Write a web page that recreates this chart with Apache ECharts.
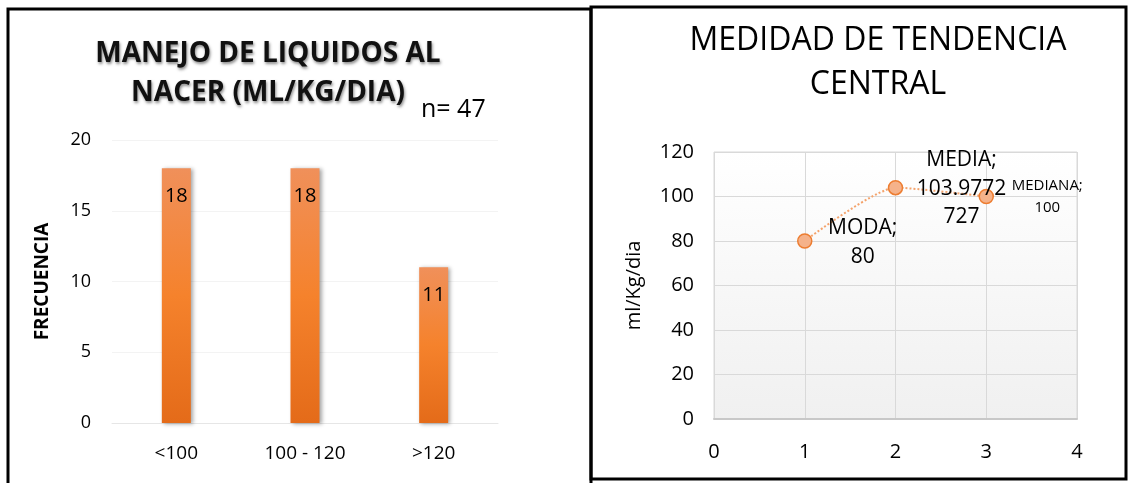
<!DOCTYPE html>
<html>
<head>
<meta charset="utf-8">
<script src="https://cdn.jsdelivr.net/npm/echarts@6/dist/echarts.min.js"></script>
<style>
html,body{margin:0;padding:0;background:#fff;}
#c{width:1130px;height:483px;}
</style>
</head>
<body>
<div id="c"></div>
<script>
// Left chart data
const barCategories = ['<100', '100 - 120', '>120'];
const barValues = [18, 18, 11];
const barYTicks = [0, 5, 10, 15, 20];
// Right chart data
const pointNames = ['MODA', 'MEDIA', 'MEDIANA'];
const pointX = [1, 2, 3];
const pointY = [80, 103.9772727, 100];
const pointLabelText = ['MODA;\n80', 'MEDIA;\n103.9772\n727', 'MEDIANA;\n100'];

const chart = echarts.init(document.getElementById('c'), null, {renderer: 'canvas'});
const FONT = 'Open Sans';

const labelStyles = [
  {offset: [58, 2], fontSize: 21, lineHeight: 29},
  {offset: [66, 1], fontSize: 21, lineHeight: 28.5},
  {offset: [61, 0], fontSize: 15, lineHeight: 22}
];

const scatterData = pointX.map((x, i) => ({
  value: [x, pointY[i]],
  name: pointNames[i],
  label: {
    show: true,
    position: 'inside',
    formatter: pointLabelText[i],
    offset: labelStyles[i].offset,
    fontSize: labelStyles[i].fontSize,
    lineHeight: labelStyles[i].lineHeight,
    color: '#000',
    fontFamily: FONT,
    align: 'center',
    verticalAlign: 'middle'
  }
}));

const option = {
  animation: false,
  backgroundColor: '#fff',
  title: [
    {
      text: 'MANEJO DE LIQUIDOS AL\nNACER (ML/KG/DIA)',
      left: 263, top: 30, textAlign: 'center',
      textStyle: {
        fontFamily: FONT, fontWeight: 'bold', fontSize: 28, lineHeight: 39, color: '#111',
        textShadowColor: 'rgba(0,0,0,0.45)', textShadowBlur: 3, textShadowOffsetX: 1, textShadowOffsetY: 2
      }
    },
    {
      text: 'n= 47',
      left: 416, top: 92,
      textStyle: {fontFamily: FONT, fontWeight: 'normal', fontSize: 25, color: '#000'}
    },
    {
      text: 'MEDIDAD DE TENDENCIA\nCENTRAL',
      left: 873, top: 14, textAlign: 'center',
      textStyle: {fontFamily: FONT, fontWeight: 'normal', fontSize: 32, lineHeight: 44, color: '#000'}
    }
  ],
  grid: [
    {left: 112, right: 632, top: 140, bottom: 60},
    {
      left: 714, right: 53, top: 152, bottom: 64, show: true,
      borderColor: '#d9d9d9', borderWidth: 1,
      backgroundColor: new echarts.graphic.LinearGradient(0, 0, 0, 1, [
        {offset: 0, color: '#ffffff'}, {offset: 1, color: '#f0f0f0'}
      ])
    }
  ],
  xAxis: [
    {
      gridIndex: 0, type: 'category', data: barCategories,
      axisLine: {show: true, lineStyle: {color: '#e6e6e6', width: 1}},
      axisTick: {show: false},
      axisLabel: {fontFamily: FONT, fontSize: 19, color: '#000', margin: 21}
    },
    {
      gridIndex: 1, type: 'value', min: 0, max: 4, interval: 1,
      axisLine: {show: true, lineStyle: {color: '#c8c8c8', width: 2}},
      axisTick: {show: false},
      splitLine: {show: true, lineStyle: {color: '#d9d9d9', width: 1}},
      axisLabel: {fontFamily: FONT, fontSize: 20, color: '#000', margin: 23}
    }
  ],
  yAxis: [
    {
      gridIndex: 0, type: 'value', min: barYTicks[0], max: barYTicks[barYTicks.length - 1], interval: 5,
      axisLine: {show: false}, axisTick: {show: false},
      splitLine: {show: true, lineStyle: {color: '#f3f3f3', width: 1}},
      axisLabel: {fontFamily: FONT, fontSize: 18, color: '#000', margin: 21},
      name: 'FRECUENCIA', nameLocation: 'middle', nameGap: 60, nameRotate: 90,
      nameTextStyle: {fontFamily: FONT, fontWeight: 'bold', fontSize: 19, color: '#000'}
    },
    {
      gridIndex: 1, type: 'value', min: 0, max: 120, interval: 20,
      axisLine: {show: false}, axisTick: {show: false},
      splitLine: {show: true, lineStyle: {color: '#d9d9d9', width: 1}},
      axisLabel: {fontFamily: FONT, fontSize: 20, color: '#000', margin: 20},
      name: 'ml/Kg/dia', nameLocation: 'middle', nameGap: 70, nameRotate: 90,
      nameTextStyle: {fontFamily: FONT, fontSize: 20, color: '#000'}
    }
  ],
  series: [
    {
      type: 'bar', xAxisIndex: 0, yAxisIndex: 0, data: barValues,
      barWidth: 29,
      itemStyle: {
        color: new echarts.graphic.LinearGradient(0, 0, 0, 1, [
          {offset: 0, color: '#f0905a'}, {offset: 0.5, color: '#f5822c'}, {offset: 1, color: '#e46b19'}
        ]),
        shadowColor: 'rgba(0,0,0,0.35)', shadowBlur: 4, shadowOffsetX: 2, shadowOffsetY: 1
      },
      label: {
        show: true, position: 'insideTop', distance: 18,
        fontFamily: FONT, fontSize: 20, color: '#000'
      }
    },
    {
      type: 'line', xAxisIndex: 1, yAxisIndex: 1, data: scatterData,
      smooth: 0.2,
      symbol: 'circle', symbolSize: 14,
      lineStyle: {color: '#f4a36c', width: 2, type: [2, 2]},
      itemStyle: {color: '#f5b28a', borderColor: '#ed7d31', borderWidth: 1.5}
    }
  ],
  graphic: [
    {type: 'rect', shape: {x: 8, y: 9, width: 583, height: 480}, style: {fill: null, stroke: '#000', lineWidth: 3}, z: 100},
    {type: 'rect', shape: {x: 591, y: 7, width: 535, height: 472}, style: {fill: null, stroke: '#000', lineWidth: 3}, z: 100}
  ]
};
chart.setOption(option);
</script>
</body>
</html>
